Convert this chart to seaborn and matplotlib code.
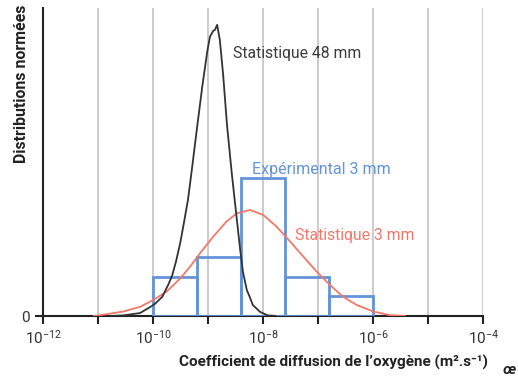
import matplotlib
matplotlib.use('Agg')
import matplotlib.pyplot as plt
import pandas as pd
import seaborn as sns

# log10 of the diffusion coefficient (m2/s) for each histogram bin edge
bin_edges = [-10.0, -9.2, -8.4, -7.6, -6.8, -6.0]
# experimental 3 mm: share of samples per bin (2, 3, 7, 2, 1 out of 15)
bin_share = [2 / 15, 3 / 15, 7 / 15, 2 / 15, 1 / 15]

# Statistique 48 mm
stat48_logd = [-10.79, -10.55, -10.24, -10.06, -9.97, -9.84, -9.73, -9.66, -9.59, -9.51,
               -9.44, -9.37, -9.30, -9.21, -9.11, -9.02, -8.97, -8.91, -8.88, -8.84,
               -8.79, -8.73, -8.66, -8.57, -8.50, -8.42, -8.37, -8.30, -8.24, -8.19,
               -8.06, -7.92, -7.77]
stat48_dens = [0.0, 0.002, 0.010, 0.030, 0.041, 0.064, 0.105, 0.135, 0.182, 0.247,
               0.318, 0.392, 0.493, 0.628, 0.774, 0.892, 0.943, 0.963, 0.966, 0.983,
               0.932, 0.814, 0.645, 0.476, 0.358, 0.223, 0.149, 0.088, 0.061, 0.037,
               0.014, 0.002, 0.0]

# Statistique 3 mm
stat3_logd = [-11.09, -11.03, -10.55, -10.24, -10.0, -9.76, -9.51, -9.33, -9.15, -8.91,
              -8.67, -8.48, -8.24, -8.0, -7.76, -7.51, -7.27, -7.03, -6.79, -6.55,
              -6.30, -6.0, -5.70, -5.42]
stat3_dens = [0.0, 0.001, 0.015, 0.031, 0.054, 0.082, 0.127, 0.167, 0.212, 0.268,
              0.319, 0.347, 0.358, 0.341, 0.302, 0.251, 0.200, 0.150, 0.105, 0.065,
              0.037, 0.015, 0.003, 0.0]

decades = list(range(-12, -3))
# only every other decade gets a label
decade_labels = ['$10^{%d}$' % d if d % 2 == 0 else '' for d in decades]

blue = '#6393da'
red = '#f3776a'
dark = '#333333'

sns.set_theme(style='white')
plt.rcParams['font.family'] = ['Roboto', 'DejaVu Sans']
plt.rcParams['mathtext.fontset'] = 'custom'
plt.rcParams['mathtext.rm'] = 'Roboto'
plt.rcParams['mathtext.default'] = 'regular'

fig = plt.figure(figsize=(5.18, 3.77), dpi=100)
ax = fig.add_axes([0.0836, 0.1618, 0.8494, 0.8170])

centers = [(a + b) / 2 for a, b in zip(bin_edges[:-1], bin_edges[1:])]
sns.histplot(x=centers, weights=bin_share, bins=bin_edges, fill=False,
             color=blue, linewidth=2, ax=ax, zorder=3)

df48 = pd.DataFrame({'logd': stat48_logd, 'dens': stat48_dens})
df3 = pd.DataFrame({'logd': stat3_logd, 'dens': stat3_dens})
sns.lineplot(data=df3, x='logd', y='dens', color=red, linewidth=1.3, ax=ax, zorder=4)
sns.lineplot(data=df48, x='logd', y='dens', color=dark, linewidth=1.3, ax=ax, zorder=5)

ax.set_xlim(-12, -4)
ax.set_ylim(0, 1.04)
ax.set_xticks(decades)
ax.set_xticklabels(decade_labels)
ax.set_yticks([0])
ax.set_yticklabels(['0'])
ax.tick_params(axis='both', direction='out', length=6, width=1.5, color='#222222',
               labelsize=11, labelcolor='#333333', bottom=True, left=True)
ax.xaxis.grid(True, color='#cccccc', linewidth=1.4)
ax.set_axisbelow(True)
for s in ['top', 'right']:
    ax.spines[s].set_visible(False)
for s in ['left', 'bottom']:
    ax.spines[s].set_color('#222222')
    ax.spines[s].set_linewidth(1.5)

ax.set_xlabel('')
ax.set_ylabel('')

ax.text(-8.55, 0.885, 'Statistique 48 mm', color='#3a3a3a', fontsize=11.3, va='center')
ax.text(-8.2, 0.495, 'Expérimental 3 mm', color=blue, fontsize=11.5, va='center')
ax.text(-7.42, 0.272, 'Statistique 3 mm', color=red, fontsize=11.3, va='center')

fig.text(488 / 518, 1 - 362 / 377, 'Coefficient de diffusion de l’oxygène (m².s⁻¹)',
         ha='right', va='center', fontsize=11, fontweight='bold', color='#222222')
fig.text(22 / 518, 1 - 5 / 377, 'Distributions normées', rotation=90,
         ha='center', va='top', fontsize=11.4, fontweight='bold', color='#222222')
fig.text(509 / 518, 1 - 370 / 377, 'œ', ha='center', va='center', fontsize=11,
         fontweight='bold', style='italic', color='#222222')

fig.savefig('out.png', dpi=100)
